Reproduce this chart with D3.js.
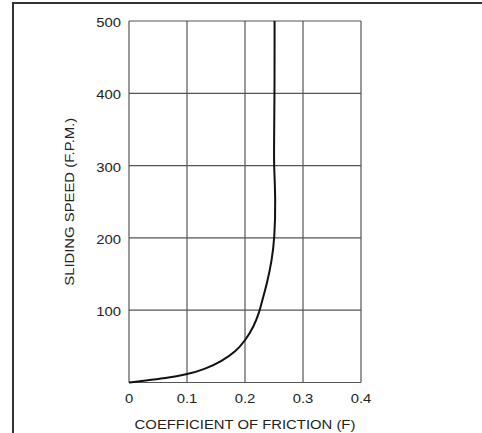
<!DOCTYPE html>
<html>
<head>
<meta charset="utf-8">
<script src="https://cdn.jsdelivr.net/npm/d3@7"></script>
<style>
  body { margin: 0; background: #fff; }
  text { font-family: "Liberation Sans", Arial, sans-serif; fill: #222; font-size: 13.5px; }
</style>
</head>
<body>
<svg id="chart" width="482" height="433"></svg>
<script>
var width = 482,
    height = 433;

var margin = {top: 21, right: 122, bottom: 50.5, left: 129};

// values
var xTicks = [0, 0.1, 0.2, 0.3, 0.4];
var yTicks = [100, 200, 300, 400, 500];
var friction = [0, 0.028, 0.062, 0.099, 0.132, 0.160, 0.184, 0.201, 0.215, 0.2248, 0.2294, 0.238, 0.2462, 0.251, 0.2528, 0.250, 0.250, 0.251, 0.251];
var speed    = [0, 2.5, 5.8, 10.8, 18.7, 29.7, 42.6, 58.8, 77, 97.5, 112.7, 137, 169, 199, 252, 300, 322, 400, 500];

var sx = 1.1; // text in the picture is slightly wide

var svg = d3.select("#chart");

// outer frame (top and left edges)
svg.append("path")
    .attr("d", "M13,433 V3 H482")
    .attr("fill", "none")
    .attr("stroke", "#333")
    .attr("stroke-width", 2);

var x = d3.scaleLinear()
    .domain([0, 0.4])
    .range([margin.left, width - margin.right + 1]);

var y = d3.scaleLinear()
    .domain([0, 500])
    .range([height - margin.bottom, margin.top]);

var g = svg.append("g");

// grid
g.selectAll(".vgrid")
    .data(xTicks)
  .enter().append("line")
    .attr("class", "vgrid")
    .attr("x1", function(d) { return x(d); })
    .attr("x2", function(d) { return x(d); })
    .attr("y1", y(0))
    .attr("y2", y(500))
    .attr("stroke", "#555")
    .attr("stroke-width", 1.2);

g.selectAll(".hgrid")
    .data([0].concat(yTicks))
  .enter().append("line")
    .attr("class", "hgrid")
    .attr("x1", x(0))
    .attr("x2", x(0.4))
    .attr("y1", function(d) { return y(d); })
    .attr("y2", function(d) { return y(d); })
    .attr("stroke", "#555")
    .attr("stroke-width", 1.2);

// tick labels
g.selectAll(".xlab")
    .data(xTicks)
  .enter().append("text")
    .attr("transform", function(d) { return "translate(" + x(d) + "," + (y(0) + 20.5) + ")scale(" + sx + ",1)"; })
    .attr("text-anchor", "middle")
    .text(function(d) { return d === 0 ? "0" : d3.format(".1f")(d); });

g.selectAll(".ylab")
    .data(yTicks)
  .enter().append("text")
    .attr("transform", function(d) { return "translate(" + (x(0) - 8) + "," + (y(d) + 6) + ")scale(" + sx + ",1)"; })
    .attr("text-anchor", "end")
    .text(function(d) { return d; });

// axis titles
svg.append("text")
    .attr("transform", "translate(" + (x(0) + x(0.4)) / 2 + ",428.5)scale(" + sx + ",1)")
    .attr("text-anchor", "middle")
    .text("COEFFICIENT OF FRICTION (F)");

svg.append("text")
    .attr("transform", "translate(74," + (y(0) + y(500)) / 2 + ")rotate(-90)scale(" + sx + ",1)")
    .attr("text-anchor", "middle")
    .text("SLIDING SPEED (F.P.M.)");

// curve (basis spline smooths out small reading errors)
var pts = d3.zip(friction, speed);

var line = d3.line()
    .x(function(d) { return x(d[0]); })
    .y(function(d) { return y(d[1]); })
    .curve(d3.curveBasis);

g.append("path")
    .datum(pts)
    .attr("d", line)
    .attr("fill", "none")
    .attr("stroke", "#111")
    .attr("stroke-width", 2);
</script>
</body>
</html>
